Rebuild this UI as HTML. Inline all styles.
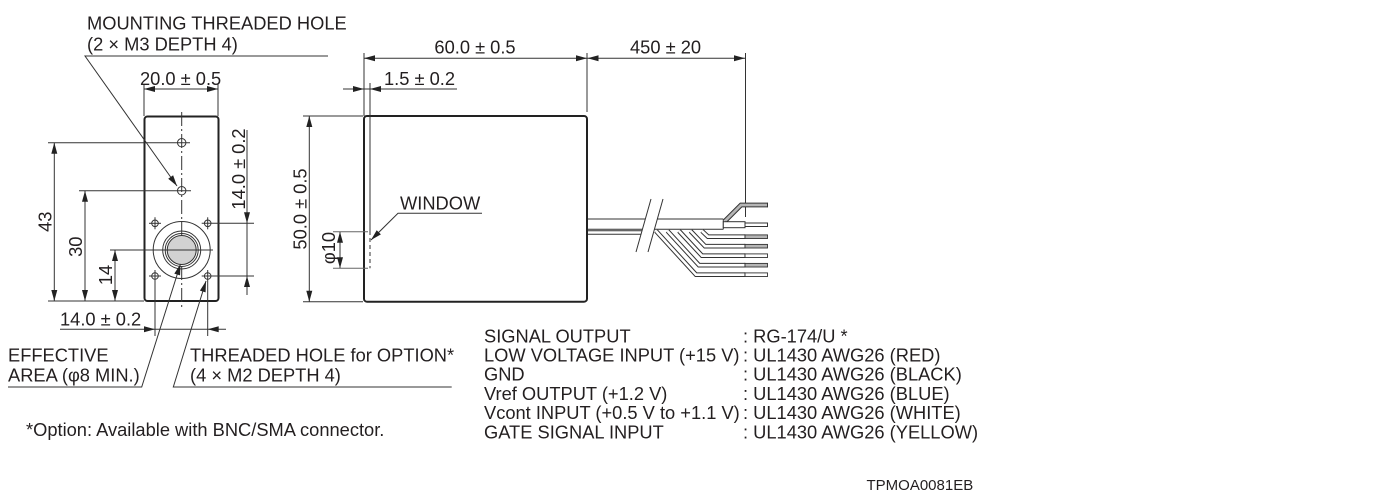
<!DOCTYPE html>
<html><head><meta charset="utf-8"><style>
html,body{margin:0;padding:0;background:#fff;}
svg{display:block;}
text{font-family:"Liberation Sans",Arial,sans-serif;font-size:18.3px;fill:#231f20;}
</style></head><body>
<svg width="1400" height="500" viewBox="0 0 1400 500" xmlns="http://www.w3.org/2000/svg">
<rect width="1400" height="500" fill="#fff"/>
<g stroke="#333" stroke-width="1" fill="none">
<!-- FRONT VIEW -->
<rect x="144.5" y="116.5" width="74" height="184.5" rx="3" stroke="#222" stroke-width="2"/>
<line x1="181.7" y1="112" x2="181.7" y2="308" stroke-dasharray="14 3 2 3"/>
<circle cx="181.7" cy="142.7" r="4.2"/>
<circle cx="181.7" cy="190.7" r="4.2"/>
<line x1="48" y1="142.7" x2="190" y2="142.7"/>
<line x1="79" y1="190.7" x2="191" y2="190.7"/>
<!-- M2 holes -->
<circle cx="155" cy="223.3" r="3.3"/><line x1="149" y1="223.3" x2="161" y2="223.3"/><line x1="155" y1="217.3" x2="155" y2="229.3"/>
<circle cx="207.7" cy="223.3" r="3.3"/><line x1="201.7" y1="223.3" x2="254" y2="223.3"/><line x1="207.7" y1="217.3" x2="207.7" y2="229.3"/>
<circle cx="155" cy="276" r="3.3"/><line x1="149" y1="276" x2="161" y2="276"/><line x1="155" y1="270" x2="155" y2="336"/>
<circle cx="207.7" cy="276" r="3.3"/><line x1="201.7" y1="276" x2="254" y2="276"/><line x1="207.7" y1="270" x2="207.7" y2="336"/>
<!-- sensor -->
<circle cx="181.7" cy="250" r="28.5"/>
<circle cx="181.7" cy="250" r="19"/>
<circle cx="181.7" cy="250" r="16.5"/>
<circle cx="181.7" cy="250" r="14.5" fill="#d2d2d2"/>
<line x1="110" y1="250" x2="213" y2="250"/>
<!-- 43 / 30 / 14 -->
<line x1="54.3" y1="142.7" x2="54.3" y2="301"/>
<line x1="85" y1="190.7" x2="85" y2="301"/>
<line x1="115" y1="250" x2="115" y2="301"/>
<line x1="48" y1="301" x2="144" y2="301"/>
<!-- right 14.0 -->
<line x1="247" y1="130" x2="247" y2="295"/>
<!-- bottom 14.0 -->
<line x1="60" y1="329.3" x2="226" y2="329.3"/>
<!-- 20.0 -->
<line x1="144" y1="89" x2="218" y2="89"/>
<line x1="144" y1="84" x2="144" y2="116"/>
<line x1="218" y1="84" x2="218" y2="116"/>
<!-- leaders -->
<polyline points="328,56 85,56 177,186"/>
<polyline points="8,387 141.7,387 180.5,264"/>
<polyline points="451.7,387 173.3,387 206,281"/>

<!-- SIDE VIEW -->
<rect x="364" y="116" width="223" height="185.7" rx="3" stroke="#222" stroke-width="2"/>
<line x1="370" y1="83" x2="370" y2="231"/>
<line x1="370" y1="231" x2="370" y2="268.3" stroke-dasharray="4 3"/>
<!-- 60 / 450 -->
<line x1="364" y1="58.3" x2="745" y2="58.3"/>
<line x1="364" y1="53" x2="364" y2="116"/>
<line x1="587" y1="53" x2="587" y2="112"/>
<line x1="745.5" y1="53" x2="745.5" y2="217"/>
<!-- 1.5 -->
<line x1="343" y1="89" x2="457" y2="89"/>
<!-- 50 -->
<line x1="309.3" y1="116" x2="309.3" y2="301.7"/>
<line x1="303" y1="116" x2="363" y2="116"/>
<line x1="303" y1="301.7" x2="363" y2="301.7"/>
<!-- phi10 -->
<line x1="340" y1="231.7" x2="340" y2="268.3"/>
<line x1="333" y1="231.7" x2="368" y2="231.7" stroke="#666"/>
<line x1="333" y1="268.3" x2="368" y2="268.3" stroke="#666"/>
<!-- window leader -->
<polyline points="482,213.3 398,213.3 371,240"/>

<!-- CABLE -->
<line x1="588" y1="219" x2="645.3" y2="219"/>
<line x1="588" y1="229.3" x2="642.4" y2="229.3"/>
<line x1="588" y1="230.7" x2="642" y2="230.7"/>
<line x1="588" y1="234.3" x2="641" y2="234.3"/>
<line x1="636" y1="252" x2="651" y2="199"/>
<line x1="648" y1="252" x2="663" y2="199"/>
<line x1="657.3" y1="219" x2="723.3" y2="219"/>
<line x1="654.4" y1="229.3" x2="723.3" y2="229.3"/>
<line x1="723.3" y1="219" x2="723.3" y2="229.3"/>
<!-- shield -->
<path d="M725 221 L741 205 L767.5 205" stroke="#333" stroke-width="4.8"/>
<path d="M725 221 L741 205 L767.5 205" stroke="#b5b5b5" stroke-width="2.8"/>
<line x1="767.5" y1="202.6" x2="767.5" y2="207.4"/>
<!-- coax center -->
<rect x="723.3" y="221.7" width="21.7" height="6" fill="#fff"/>
<rect x="745" y="223" width="22.5" height="3.5" fill="#fff"/>
<!-- wires -->
<g>
<path d="M656 231 L696 274.7 L745 274.7" stroke="#333" stroke-width="4.6"/>
<path d="M656 231 L696 274.7 L745 274.7" stroke="#fff" stroke-width="2.6"/>
<path d="M667.5 231 L699 265.2 L745 265.2" stroke="#333" stroke-width="4.6"/>
<path d="M667.5 231 L699 265.2 L745 265.2" stroke="#fff" stroke-width="2.6"/>
<path d="M679 231 L702 255.7 L745 255.7" stroke="#333" stroke-width="4.6"/>
<path d="M679 231 L702 255.7 L745 255.7" stroke="#fff" stroke-width="2.6"/>
<path d="M690.5 231 L705 246.2 L745 246.2" stroke="#333" stroke-width="4.6"/>
<path d="M690.5 231 L705 246.2 L745 246.2" stroke="#fff" stroke-width="2.6"/>
<path d="M702 231 L708 236.7 L745 236.7" stroke="#333" stroke-width="4.6"/>
<path d="M702 231 L708 236.7 L745 236.7" stroke="#fff" stroke-width="2.6"/>
</g>
<line x1="745" y1="234.4" x2="745" y2="239"/>
<line x1="745" y1="243.9" x2="745" y2="248.5"/>
<line x1="745" y1="253.4" x2="745" y2="258"/>
<line x1="745" y1="262.9" x2="745" y2="267.5"/>
<line x1="745" y1="272.4" x2="745" y2="277"/>
<rect x="745" y="234.9" width="22.5" height="3.6" fill="#b5b5b5" stroke-width="0.9"/>
<rect x="745" y="244.4" width="22.5" height="3.6" fill="#b5b5b5" stroke-width="0.9"/>
<rect x="745" y="253.9" width="22.5" height="3.6" fill="#fff" stroke-width="0.9"/>
<rect x="745" y="263.4" width="22.5" height="3.6" fill="#b5b5b5" stroke-width="0.9"/>
<rect x="745" y="272.9" width="22.5" height="3.6" fill="#fff" stroke-width="0.9"/>
</g>

<!-- ARROWHEADS -->
<g fill="#222" stroke="none">
<!-- 43 -->
<polygon points="54.3,142.7 51.3,153.7 57.3,153.7"/>
<polygon points="54.3,301 51.3,290 57.3,290"/>
<!-- 30 -->
<polygon points="85,190.7 82,201.7 88,201.7"/>
<polygon points="85,301 82,290 88,290"/>
<!-- 14 -->
<polygon points="115,250 112,261 118,261"/>
<polygon points="115,301 112,290 118,290"/>
<!-- right 14.0 -->
<polygon points="247,223.3 244,212.3 250,212.3"/>
<polygon points="247,276 244,287 250,287"/>
<!-- bottom 14.0 -->
<polygon points="155,329.3 144,326.3 144,332.3"/>
<polygon points="207.7,329.3 218.7,326.3 218.7,332.3"/>
<!-- 20.0 -->
<polygon points="144,89 155,86 155,92"/>
<polygon points="218,89 207,86 207,92"/>
<!-- leaders -->
<polygon points="177,186 168.2,178.7 173.1,175.3"/>
<polygon points="180.5,264 180.1,275.4 174.3,273.6"/>
<polygon points="206,281 205.6,292.4 199.9,290.6"/>
<polygon points="371,240 380.9,234.4 376.7,230.2"/>
<!-- 60 -->
<polygon points="364,58.3 375,55.3 375,61.3"/>
<polygon points="587,58.3 576,55.3 576,61.3"/>
<!-- 450 -->
<polygon points="587.5,58.3 598.5,55.3 598.5,61.3"/>
<polygon points="745,58.3 734,55.3 734,61.3"/>
<!-- 1.5 -->
<polygon points="364,89 353,86 353,92"/>
<polygon points="370,89 381,86 381,92"/>
<!-- 50 -->
<polygon points="309.3,116 306.3,127 312.3,127"/>
<polygon points="309.3,301.7 306.3,290.7 312.3,290.7"/>
<!-- phi10 -->
<polygon points="340,231.7 337,242.7 343,242.7"/>
<polygon points="340,268.3 337,257.3 343,257.3"/>
</g>

<!-- TEXT -->
<text x="87" y="29.3">MOUNTING THREADED HOLE</text>
<text x="87" y="50.5">(2 × M3 DEPTH 4)</text>
<text x="140" y="85">20.0 ± 0.5</text>
<text transform="translate(51.5,221.7) rotate(-90)" text-anchor="middle">43</text>
<text transform="translate(82,246.7) rotate(-90)" text-anchor="middle">30</text>
<text transform="translate(112,275) rotate(-90)" text-anchor="middle">14</text>
<text transform="translate(245,169) rotate(-90)" text-anchor="middle">14.0 ± 0.2</text>
<text x="60" y="325.7">14.0 ± 0.2</text>
<text x="8" y="361.3">EFFECTIVE</text>
<text x="8" y="381.7">AREA (φ8 MIN.)</text>
<text x="190" y="361.3">THREADED HOLE for OPTION*</text>
<text x="190" y="381.7">(4 × M2 DEPTH 4)</text>
<text x="26" y="436">*Option: Available with BNC/SMA connector.</text>

<text x="475" y="53.3" text-anchor="middle">60.0 ± 0.5</text>
<text x="630" y="53.3">450 ± 20</text>
<text x="384" y="85">1.5 ± 0.2</text>
<text transform="translate(306.5,209) rotate(-90)" text-anchor="middle">50.0 ± 0.5</text>
<text transform="translate(335,248) rotate(-90)" text-anchor="middle">φ10</text>
<text x="400" y="209.3">WINDOW</text>

<text x="484" y="342.7">SIGNAL OUTPUT</text>
<text x="484" y="361.7">LOW VOLTAGE INPUT (+15 V)</text>
<text x="484" y="380.7">GND</text>
<text x="484" y="400">Vref OUTPUT (+1.2 V)</text>
<text x="484" y="419">Vcont INPUT (+0.5 V to +1.1 V)</text>
<text x="484" y="438.3">GATE SIGNAL INPUT</text>
<text x="743" y="342.7">: RG-174/U *</text>
<text x="743" y="361.7">: UL1430 AWG26 (RED)</text>
<text x="743" y="380.7">: UL1430 AWG26 (BLACK)</text>
<text x="743" y="400">: UL1430 AWG26 (BLUE)</text>
<text x="743" y="419">: UL1430 AWG26 (WHITE)</text>
<text x="743" y="438.3">: UL1430 AWG26 (YELLOW)</text>

<text x="866.5" y="490" style="font-size:15px">TPMOA0081EB</text>
</svg>
</body></html>
